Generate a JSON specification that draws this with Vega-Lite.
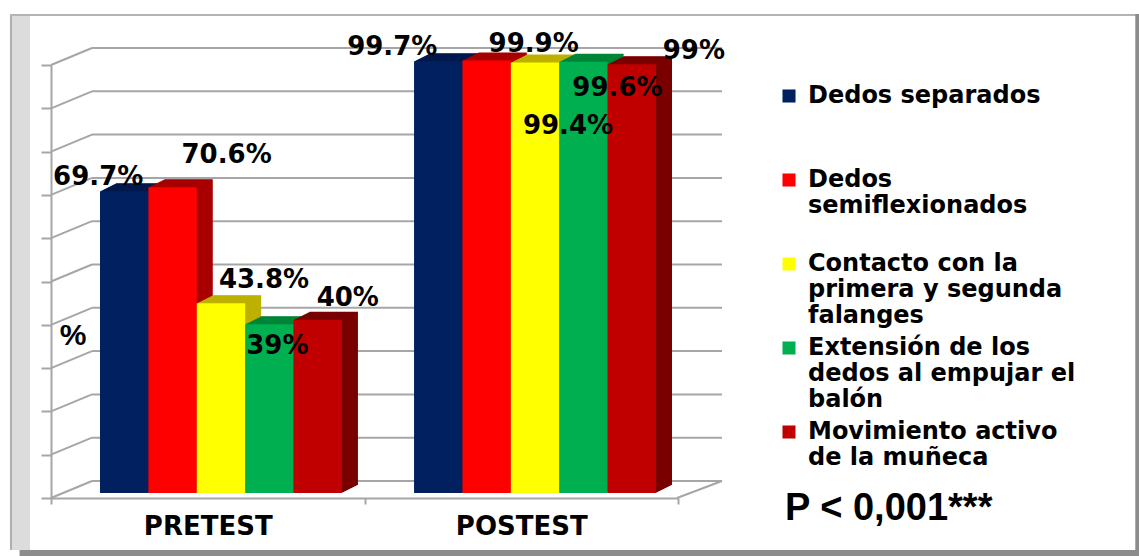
{
"$schema":"https://vega.github.io/schema/vega-lite/v6.json",
"width":1139,"height":556,"padding":0,"autosize":{"type":"none"},"background":"#ffffff",
"config":{"view":{"stroke":null},"font":"DejaVu Sans"},
"datasets":{
"resultados":[
{"prueba":"PRETEST","tecnica":"Dedos separados","valor":69.7},
{"prueba":"PRETEST","tecnica":"Dedos semiflexionados","valor":70.6},
{"prueba":"PRETEST","tecnica":"Contacto con la primera y segunda falanges","valor":43.8},
{"prueba":"PRETEST","tecnica":"Extensión de los dedos al empujar el balón","valor":39},
{"prueba":"PRETEST","tecnica":"Movimiento activo de la muñeca","valor":40},
{"prueba":"POSTEST","tecnica":"Dedos separados","valor":99.7},
{"prueba":"POSTEST","tecnica":"Dedos semiflexionados","valor":99.9},
{"prueba":"POSTEST","tecnica":"Contacto con la primera y segunda falanges","valor":99.4},
{"prueba":"POSTEST","tecnica":"Extensión de los dedos al empujar el balón","valor":99.6},
{"prueba":"POSTEST","tecnica":"Movimiento activo de la muñeca","valor":99}
],
"escala":[{"marca":0},{"marca":10},{"marca":20},{"marca":30},{"marca":40},{"marca":50},{"marca":60},{"marca":70},{"marca":80},{"marca":90},{"marca":100}],
"uno":[{"pieza":"marco"}]
},
"layer":[
{
"description":"Slide frame, back wall, side wall and floor of the chart box",
"data":{"name":"uno"},
"layer":[
{"mark":{"type":"rect","color":"#dcdcdc"},"encoding":{"x":{"datum":-0.1302},"x2":{"datum":-0.0984},"y":{"datum":111.8},"y2":{"datum":-12}}},
{"mark":{"type":"rect","color":"#b0b0b0"},"encoding":{"x":{"datum":-0.1302},"x2":{"datum":-0.127},"y":{"datum":111.8},"y2":{"datum":-12}}},
{"mark":{"type":"rect","color":"#b4b4b4"},"encoding":{"x":{"datum":-0.1302},"x2":{"datum":1.662},"y":{"datum":111.8},"y2":{"datum":111.3}}},
{"mark":{"type":"rect","color":"#8c8c8c"},"encoding":{"x":{"datum":1.656},"x2":{"datum":1.662},"y":{"datum":111.8},"y2":{"datum":-13.5}}},
{"mark":{"type":"rect","color":"#8c8c8c"},"encoding":{"x":{"datum":-0.115},"x2":{"datum":1.662},"y":{"datum":-12},"y2":{"datum":-13.5}}},
{"data":{"name":"escala"},"mark":{"type":"rule","color":"#a6a6a6","strokeWidth":2,"yOffset":-17,"y2Offset":-17},"encoding":{"x":{"datum":0},"x2":{"datum":1},"y":{"field":"marca","type":"quantitative"},"y2":{"field":"marca"}}},
{"data":{"name":"escala"},"mark":{"type":"rule","color":"#a6a6a6","strokeWidth":2,"xOffset":-41,"y2Offset":-17},"encoding":{"x":{"datum":0},"x2":{"datum":0},"y":{"field":"marca","type":"quantitative"},"y2":{"field":"marca"}}},
{"mark":{"type":"rule","color":"#a6a6a6","strokeWidth":2,"yOffset":-17,"x2Offset":-45},"encoding":{"x":{"datum":1},"x2":{"datum":1},"y":{"datum":0},"y2":{"datum":0}}},
{"mark":{"type":"text","font":"Liberation Sans","fontWeight":"bold","fontSize":38,"align":"left","baseline":"alphabetic","color":"#000000"},"encoding":{"x":{"datum":1.1},"y":{"datum":-5.08},"text":{"value":"P < 0,001***"}}},
{"mark":{"type":"text","font":"Liberation Sans","fontWeight":"bold","fontSize":30,"align":"center","baseline":"middle","color":"#000000"},"encoding":{"x":{"datum":-0.0302},"y":{"datum":37.4},"text":{"value":"%"}}}
],
"encoding":{
"x":{"scale":{"domain":[0,1],"range":[92,722]},"axis":null},
"y":{"scale":{"domain":[0,100],"range":[498,65]},"axis":null}
}
},
{
"description":"Front axes of the chart box; the marks themselves stay invisible",
"data":{"name":"resultados"},
"mark":{"type":"point","opacity":0},
"encoding":{
"x":{"field":"prueba","type":"nominal","title":null,"scale":{"domain":["PRETEST","POSTEST"],"range":[51,678],"paddingInner":0,"paddingOuter":0},
"axis":{"orient":"bottom","offset":-58,"tickBand":"extent","labelAngle":0,"labelFont":"DejaVu Sans","labelFontWeight":"bold","labelFontSize":26,"labelColor":"#000000","labelPadding":9,"tickSize":6,"tickColor":"#a6a6a6","tickWidth":2,"domainColor":"#a6a6a6","domainWidth":2,"grid":false}},
"y":{"field":"valor","type":"quantitative","title":null,"scale":{"domain":[0,100],"range":[498,65]},
"axis":{"orient":"left","offset":-51,"values":[0,10,20,30,40,50,60,70,80,90,100],"labels":false,"tickSize":10,"tickColor":"#a6a6a6","tickWidth":2,"domainColor":"#a6a6a6","domainWidth":2,"grid":false}}
}
},
{
"data":{"name":"resultados"},
"transform":[
{"calculate":"indexof(['PRETEST','POSTEST'],datum.prueba)*6.49+indexof(['Dedos separados','Dedos semiflexionados','Contacto con la primera y segunda falanges','Extensión de los dedos al empujar el balón','Movimiento activo de la muñeca'],datum.tecnica)","as":"inicio"},
{"calculate":"datum.inicio+1","as":"fin"},
{"calculate":"datum.inicio+0.5","as":"centro"}
],
"encoding":{
"x":{"field":"inicio","type":"quantitative","scale":{"domain":[0,11.49],"range":[100,656]},"axis":null},
"y":{"field":"valor","type":"quantitative","stack":null,"scale":{"domain":[0,100],"range":[498,65]},"axis":null}
},
"layer":[
{
"description":"Extruded depth of each bar, deepest slice first",
"encoding":{
"x2":{"field":"fin"},"y2":{"datum":0},
"color":{"field":"tecnica","type":"nominal","legend":null,"scale":{"domain":["Dedos separados","Dedos semiflexionados","Contacto con la primera y segunda falanges","Extensión de los dedos al empujar el balón","Movimiento activo de la muñeca"],"range":["#001a4d","#a80000","#bdb000","#008537","#7a0000"]}}},
"layer":[
{"mark":{"type":"bar","xOffset":16,"x2Offset":16,"yOffset":-13,"y2Offset":-13}},
{"mark":{"type":"bar","xOffset":15,"x2Offset":15,"yOffset":-12.5,"y2Offset":-12.5}},
{"mark":{"type":"bar","xOffset":14,"x2Offset":14,"yOffset":-12,"y2Offset":-12}},
{"mark":{"type":"bar","xOffset":13,"x2Offset":13,"yOffset":-11.5,"y2Offset":-11.5}},
{"mark":{"type":"bar","xOffset":12,"x2Offset":12,"yOffset":-11,"y2Offset":-11}},
{"mark":{"type":"bar","xOffset":11,"x2Offset":11,"yOffset":-10.5,"y2Offset":-10.5}},
{"mark":{"type":"bar","xOffset":10,"x2Offset":10,"yOffset":-10,"y2Offset":-10}},
{"mark":{"type":"bar","xOffset":9,"x2Offset":9,"yOffset":-9.5,"y2Offset":-9.5}},
{"mark":{"type":"bar","xOffset":8,"x2Offset":8,"yOffset":-9,"y2Offset":-9}},
{"mark":{"type":"bar","xOffset":7,"x2Offset":7,"yOffset":-8.5,"y2Offset":-8.5}},
{"mark":{"type":"bar","xOffset":6,"x2Offset":6,"yOffset":-8,"y2Offset":-8}},
{"mark":{"type":"bar","xOffset":5,"x2Offset":5,"yOffset":-7.5,"y2Offset":-7.5}},
{"mark":{"type":"bar","xOffset":4,"x2Offset":4,"yOffset":-7,"y2Offset":-7}},
{"mark":{"type":"bar","xOffset":3,"x2Offset":3,"yOffset":-6.5,"y2Offset":-6.5}},
{"mark":{"type":"bar","xOffset":2,"x2Offset":2,"yOffset":-6,"y2Offset":-6}},
{"mark":{"type":"bar","xOffset":1,"x2Offset":1,"yOffset":-5.5,"y2Offset":-5.5}}
]
},
{
"description":"Front faces of the bars, which carry the legend",
"mark":{"type":"bar","yOffset":-5,"y2Offset":-5},
"encoding":{"x2":{"field":"fin"},"y2":{"datum":0},"color":{"field":"tecnica","type":"nominal","scale":{"domain":["Dedos separados","Dedos semiflexionados","Contacto con la primera y segunda falanges","Extensión de los dedos al empujar el balón","Movimiento activo de la muñeca"],"range":["#002060","#ff0000","#ffff00","#00b050","#c00000"]},
"legend":{"orient":"none","legendX":777,"legendY":84,"title":null,"symbolType":"square","symbolSize":170,"symbolStrokeWidth":0,"labelFont":"DejaVu Sans","labelFontWeight":"bold","labelFontSize":24,"labelColor":"#000000","labelOffset":7,"labelLimit":340,"gridAlign":"all","rowPadding":8,
"labelExpr":"datum.label == 'Dedos semiflexionados' ? ['Dedos','semiflexionados'] : datum.label == 'Contacto con la primera y segunda falanges' ? ['Contacto con la','primera y segunda','falanges'] : datum.label == 'Extensión de los dedos al empujar el balón' ? ['Extensión de los','dedos al empujar el','balón'] : datum.label == 'Movimiento activo de la muñeca' ? ['Movimiento activo','de la muñeca'] : datum.label"}}}
},
{
"description":"Value labels, each placed by hand beside its bar",
"transform":[{"calculate":"datum.valor + '%'","as":"rotulo"}],
"encoding":{"x":{"field":"centro","type":"quantitative"},"text":{"field":"rotulo"}},
"layer":[
{"transform":[{"filter":"datum.prueba == 'PRETEST' && datum.valor == 69.7"}],"mark":{"type":"text","font":"DejaVu Sans","fontWeight":"bold","fontSize":26,"color":"#000000","dx":-26,"dy":-19}},
{"transform":[{"filter":"datum.prueba == 'PRETEST' && datum.valor == 70.6"}],"mark":{"type":"text","font":"DejaVu Sans","fontWeight":"bold","fontSize":26,"color":"#000000","dx":54,"dy":-37}},
{"transform":[{"filter":"datum.prueba == 'PRETEST' && datum.valor == 43.8"}],"mark":{"type":"text","font":"DejaVu Sans","fontWeight":"bold","fontSize":26,"color":"#000000","dx":43,"dy":-28}},
{"transform":[{"filter":"datum.prueba == 'PRETEST' && datum.valor == 39"}],"mark":{"type":"text","font":"DejaVu Sans","fontWeight":"bold","fontSize":26,"color":"#000000","dx":8,"dy":17}},
{"transform":[{"filter":"datum.prueba == 'PRETEST' && datum.valor == 40"}],"mark":{"type":"text","font":"DejaVu Sans","fontWeight":"bold","fontSize":26,"color":"#000000","dx":30,"dy":-27}},
{"transform":[{"filter":"datum.prueba == 'POSTEST' && datum.valor == 99.7"}],"mark":{"type":"text","font":"DejaVu Sans","fontWeight":"bold","fontSize":26,"color":"#000000","dx":-46,"dy":-19}},
{"transform":[{"filter":"datum.prueba == 'POSTEST' && datum.valor == 99.9"}],"mark":{"type":"text","font":"DejaVu Sans","fontWeight":"bold","fontSize":26,"color":"#000000","dx":47,"dy":-21}},
{"transform":[{"filter":"datum.prueba == 'POSTEST' && datum.valor == 99.4"}],"mark":{"type":"text","font":"DejaVu Sans","fontWeight":"bold","fontSize":26,"color":"#000000","dx":33,"dy":58}},
{"transform":[{"filter":"datum.prueba == 'POSTEST' && datum.valor == 99.6"}],"mark":{"type":"text","font":"DejaVu Sans","fontWeight":"bold","fontSize":26,"color":"#000000","dx":34,"dy":21}},
{"transform":[{"filter":"datum.prueba == 'POSTEST' && datum.valor == 99"}],"mark":{"type":"text","font":"DejaVu Sans","fontWeight":"bold","fontSize":26,"color":"#000000","dx":62,"dy":-18}}
]
}
],
"resolve":{"scale":{"color":"independent"}}
}
],
"resolve":{"scale":{"x":"independent","y":"independent"},"axis":{"x":"independent","y":"independent"}}
}
